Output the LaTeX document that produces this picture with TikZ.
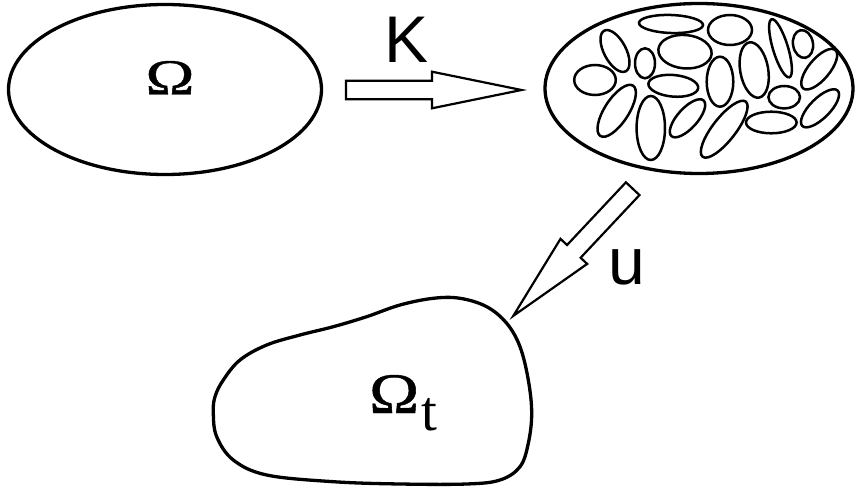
\documentclass[tikz,border=0pt]{standalone}
\usepackage{fontspec}
\setmainfont{Liberation Serif}
\newfontfamily\sansfam{Liberation Sans}
\newfontfamily\omfam[FakeBold=0.8]{Liberation Serif}
\begin{document}
\begin{tikzpicture}[x=1pt,y=1pt,
  outline/.style={draw=black, line width=3.3pt},
  grain/.style={draw=black, line width=2.5pt},
  blockarrow/.style={draw=black, line width=2.2pt, line join=miter, fill=white},
  greek/.style={inner sep=0pt, font=\omfam\fontsize{52}{56}\selectfont},
  latin/.style={inner sep=0pt, font=\sansfam\fontsize{66}{70}\selectfont}]
\useasboundingbox (0,0) rectangle (855,-492);
% left ellipse
\draw[outline] (165,-89.5) ellipse [x radius=156.5, y radius=85];
\node[greek, anchor=base] (om) at (170,-94.5) {\resizebox{49pt}{33.5pt}{Ω}};
% right ellipse with grains
\draw[outline] (699,-88.5) ellipse [x radius=154, y radius=85];
\begin{scope}[grain]
\draw[rotate around={-2:(671,-24)}] (671,-24) ellipse [x radius=32, y radius=9];
\draw (730,-30) ellipse [x radius=22, y radius=15];
\draw[rotate around={107:(780.5,-48.3)}] (780.5,-48.3) ellipse [x radius=30.3, y radius=7.5];
\draw[rotate around={100:(803,-44)}] (803,-44) ellipse [x radius=14, y radius=10];
\draw[rotate around={118:(615,-51)}] (615,-51) ellipse [x radius=23, y radius=11];
\draw (645,-63.3) ellipse [x radius=10, y radius=15];
\draw[rotate around={-5:(685,-51.7)}] (685,-51.7) ellipse [x radius=26.7, y radius=16.7];
\draw (595,-80) ellipse [x radius=20.8, y radius=15];
\draw[rotate around={-5:(673.3,-85.8)}] (673.3,-85.8) ellipse [x radius=25, y radius=10.8];
\draw (720,-81.7) ellipse [x radius=13.3, y radius=25];
\draw[rotate around={100:(754.2,-70)}] (754.2,-70) ellipse [x radius=28, y radius=14];
\draw[rotate around={50:(819.2,-69.2)}] (819.2,-69.2) ellipse [x radius=25, y radius=10.5];
\draw (784.2,-97.2) ellipse [x radius=15.8, y radius=11.2];
\draw[rotate around={57:(616.7,-110.8)}] (616.7,-110.8) ellipse [x radius=30, y radius=12];
\draw (650.8,-128) ellipse [x radius=14.2, y radius=32];
\draw[rotate around={48:(687.5,-118.3)}] (687.5,-118.3) ellipse [x radius=24, y radius=10];
\draw[rotate around={52:(724.2,-129.2)}] (724.2,-129.2) ellipse [x radius=35, y radius=11.5];
\draw (771.3,-122.5) ellipse [x radius=25.3, y radius=10.8];
\draw[rotate around={45:(820,-108.3)}] (820,-108.3) ellipse [x radius=25, y radius=10];
\end{scope}
% K arrow
\draw[blockarrow, shift={(346,-90)}] (0,9.3) -- (86,9.3) -- (86,18.3) -- (175.5,0) -- (86,-18.3) -- (86,-9.3) -- (0,-9.3) -- cycle;
\node[latin, anchor=base] (K) at (406.5,-63) {K};
% u arrow
\draw[blockarrow, shift={(632.7,-188.7)}, rotate=-133.2] (0,9.3) -- (86,9.3) -- (86,18.3) -- (174.5,0) -- (86,-18.3) -- (86,-9.3) -- (0,-9.3) -- cycle;
\node[latin, anchor=base] (u) at (627,-284) {u};
% deformed body
\draw[outline] plot[smooth cycle, tension=0.6] coordinates {
 (213.3,-413.3) (216.7,-436.7) (233.3,-460) (266.7,-475) (333.3,-481.7) (400,-484)
 (466.7,-484) (500,-480) (520,-466.7) (528.3,-443.3) (531.7,-413.3) (528.3,-380)
 (520,-346.7) (506.7,-323.3) (486.7,-306.7) (460,-298.3) (433.3,-298.3) (400,-305)
 (366.7,-316.7) (333.3,-326.7) (300,-335) (266.7,-345) (240,-360) (223.3,-380) (215,-396.7)};
\node[greek, anchor=base west, font=\omfam\fontsize{57}{60}\selectfont] (omt) at (369,-413) {\resizebox{50pt}{38pt}{Ω}\hspace{2pt}\raisebox{-17pt}{\rmfamily t}};
\end{tikzpicture}
\end{document}
